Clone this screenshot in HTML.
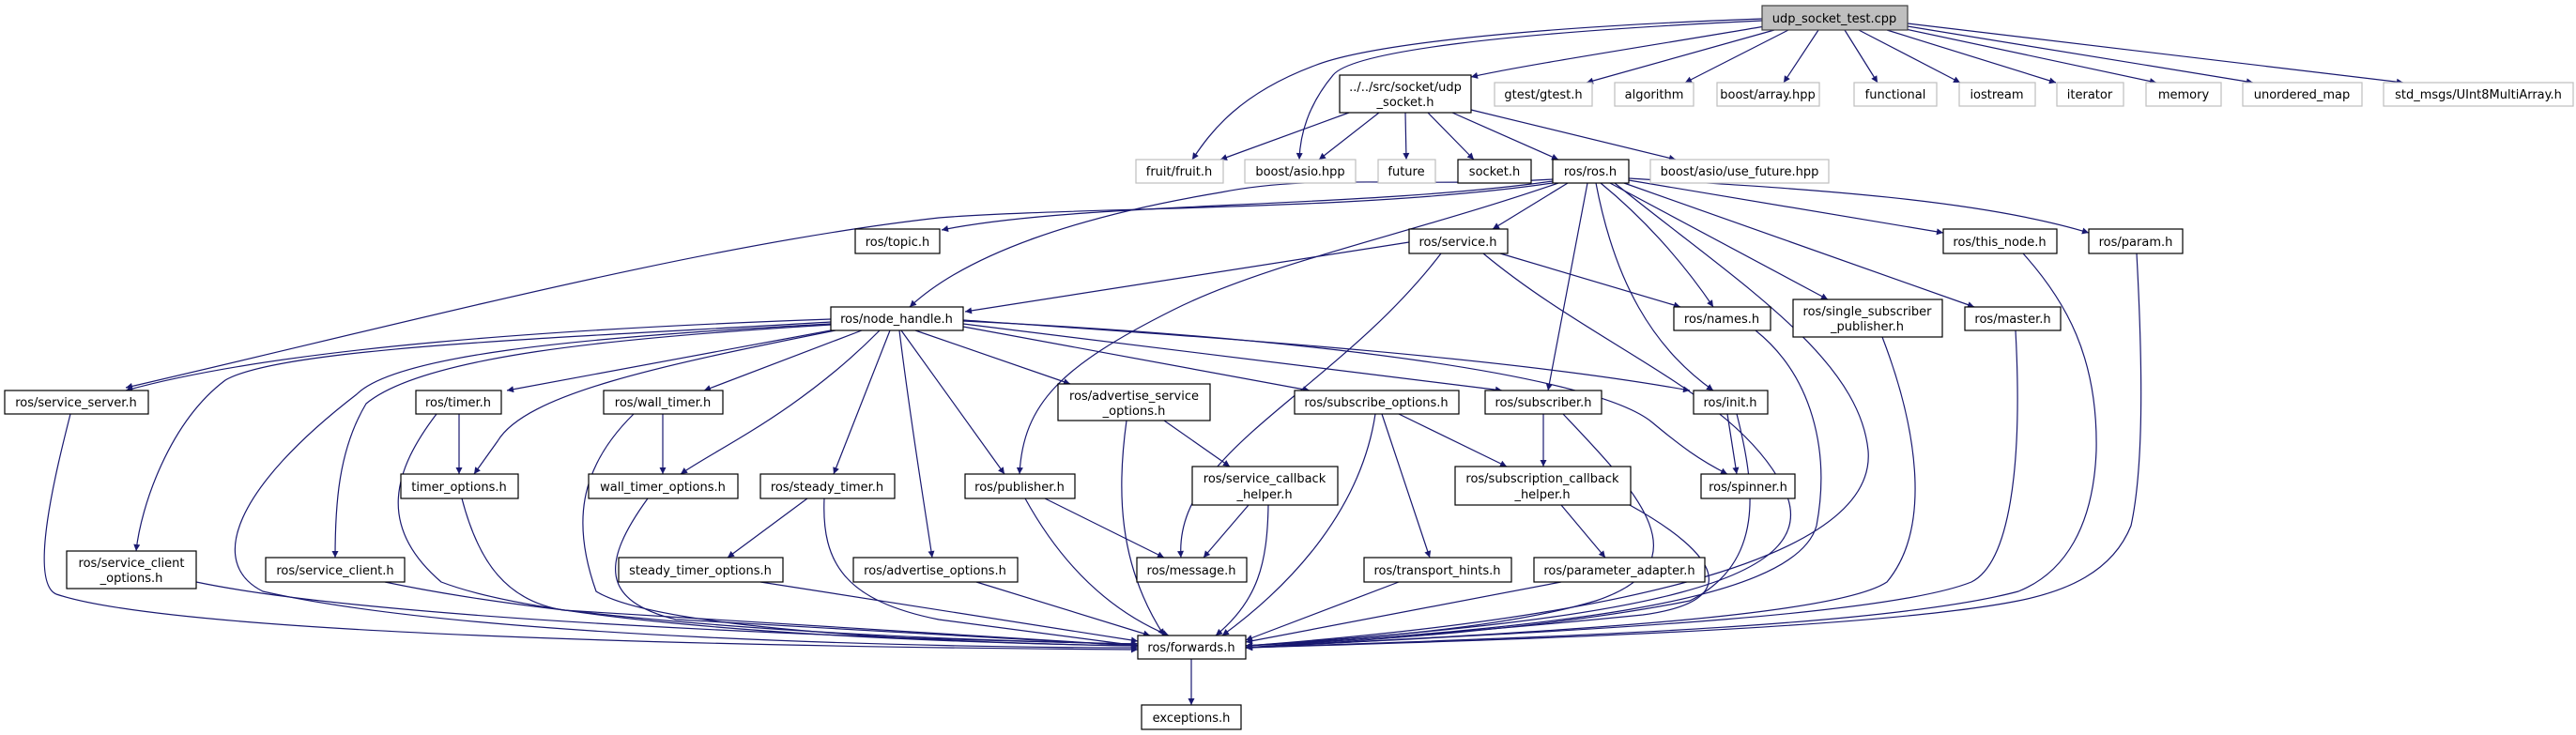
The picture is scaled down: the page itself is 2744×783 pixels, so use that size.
<!DOCTYPE html>
<html><head><meta charset="utf-8"><style>
html,body{margin:0;padding:0;background:#fff;}
svg{display:block;}
text{font-family:"DejaVu Sans","Liberation Sans",sans-serif;font-size:13px;fill:#000;}
.e{fill:none;stroke:#191970;stroke-width:1.2;}
.n{fill:#fff;stroke:#000;stroke-width:1.2;}
.g{fill:#fff;stroke:#bfbfbf;stroke-width:1.2;}
</style></head><body>
<svg width="2744" height="783" viewBox="0 0 2744 783" xmlns="http://www.w3.org/2000/svg">
<defs><marker id="a" viewBox="0 0 10 10" refX="10" refY="5" markerWidth="10" markerHeight="7" markerUnits="userSpaceOnUse" orient="auto"><path d="M0,0 L10,5 L0,10 z" fill="#191970"/></marker></defs>
<g marker-end="url(#a)">
<path class="e" d="M1880,28 C1750,50 1620,70 1567,82"/>
<path class="e" d="M1890,32 L1690,88"/>
<path class="e" d="M1905,32 L1795,88"/>
<path class="e" d="M1937,32 L1900,88"/>
<path class="e" d="M1965,32 L2000,88"/>
<path class="e" d="M1980,32 L2088,88"/>
<path class="e" d="M2010,32 L2190,88"/>
<path class="e" d="M2025,30 L2297,88"/>
<path class="e" d="M2032,28 L2400,88"/>
<path class="e" d="M2032,25 L2560,88"/>
<path class="e" d="M1877,20 C1600,30 1450,50 1400,70 C1320,100 1290,140 1270,170"/>
<path class="e" d="M1877,22 C1600,35 1440,55 1420,80 C1395,110 1385,140 1384,170"/>
<path class="e" d="M1437,120 L1300,170"/>
<path class="e" d="M1469,120 L1405,170"/>
<path class="e" d="M1497,120 L1498,170"/>
<path class="e" d="M1521,120 L1570,170"/>
<path class="e" d="M1547,120 L1660,170"/>
<path class="e" d="M1567,117 L1785,170"/>
<path class="e" d="M1654,193 C1450,222 1150,215 1003,245"/>
<path class="e" d="M1654,195 C1450,225 1150,220 1000,232 C750,260 450,340 134,413"/>
<path class="e" d="M1654,191 C1500,200 1400,185 1300,205 C1150,230 1030,270 969,327"/>
<path class="e" d="M1670,195 L1590,244"/>
<path class="e" d="M1660,195 C1500,250 1350,280 1250,330 C1130,390 1090,430 1086,505"/>
<path class="e" d="M1691,195 L1649,416"/>
<path class="e" d="M1700,195 C1720,300 1760,370 1825,416"/>
<path class="e" d="M1705,195 C1760,240 1800,290 1825,327"/>
<path class="e" d="M1715,195 L1947,319"/>
<path class="e" d="M1730,195 L2103,327"/>
<path class="e" d="M1735,192 L2070,248"/>
<path class="e" d="M1735,190 C1900,200 2100,210 2225,248"/>
<path class="e" d="M1720,195 C1850,300 1980,380 1990,480 C2000,600 1700,660 1327,688"/>
<path class="e" d="M1501,258 L1028,332"/>
<path class="e" d="M1535,270 C1420,420 1250,480 1258,594"/>
<path class="e" d="M1598,270 L1790,327"/>
<path class="e" d="M1580,270 C1700,370 1850,420 1900,520 C1950,620 1750,660 1327,688"/>
<path class="e" d="M885,340 C600,350 300,370 134,416"/>
<path class="e" d="M885,343 C600,360 300,370 240,405 C180,450 150,540 145,587"/>
<path class="e" d="M885,346 C650,360 450,380 390,430 C360,480 357,540 357,594"/>
<path class="e" d="M885,345 C600,360 420,380 380,420 C250,520 220,600 280,630 C500,680 1000,690 1212,690"/>
<path class="e" d="M885,352 L540,416"/>
<path class="e" d="M890,352 C700,390 560,420 530,470 L505,505"/>
<path class="e" d="M918,352 L750,416"/>
<path class="e" d="M937,352 C850,440 760,480 725,505"/>
<path class="e" d="M948,352 L888,505"/>
<path class="e" d="M960,352 L1070,505"/>
<path class="e" d="M958,352 C970,450 985,540 993,594"/>
<path class="e" d="M975,352 L1140,409"/>
<path class="e" d="M1026,348 L1395,416"/>
<path class="e" d="M1026,345 L1600,416"/>
<path class="e" d="M1026,341 C1300,360 1600,380 1800,416"/>
<path class="e" d="M1026,342 C1400,360 1700,400 1760,450 C1790,475 1810,490 1840,505"/>
<path class="e" d="M75,441 C60,500 30,620 60,633 C200,680 900,690 1212,692"/>
<path class="e" d="M489,441 L489,505"/>
<path class="e" d="M465,441 C420,500 400,560 470,620 C600,670 1000,685 1212,688"/>
<path class="e" d="M706,441 L706,505"/>
<path class="e" d="M675,441 C615,500 610,560 635,630 C700,670 1000,685 1212,688"/>
<path class="e" d="M860,531 L775,594"/>
<path class="e" d="M878,531 C875,600 900,640 1000,660 L1212,688"/>
<path class="e" d="M492,531 C510,600 540,640 600,650 L1212,688"/>
<path class="e" d="M690,531 C640,600 640,640 720,660 L1212,688"/>
<path class="e" d="M810,620 L1212,683"/>
<path class="e" d="M209,620 C400,660 900,680 1212,686"/>
<path class="e" d="M410,620 C600,660 900,680 1212,686"/>
<path class="e" d="M1040,620 L1225,677"/>
<path class="e" d="M1240,448 L1310,497"/>
<path class="e" d="M1200,448 C1190,520 1190,600 1240,677"/>
<path class="e" d="M1330,538 L1282,594"/>
<path class="e" d="M1351,538 C1350,600 1340,640 1295,677"/>
<path class="e" d="M1113,531 L1240,594"/>
<path class="e" d="M1092,531 C1130,600 1180,650 1245,677"/>
<path class="e" d="M1490,441 L1605,497"/>
<path class="e" d="M1472,441 L1523,594"/>
<path class="e" d="M1465,441 C1450,540 1380,620 1302,677"/>
<path class="e" d="M1644,441 L1644,497"/>
<path class="e" d="M1665,441 C1740,520 1820,600 1700,640 C1600,670 1450,680 1327,688"/>
<path class="e" d="M1840,441 L1850,505"/>
<path class="e" d="M1850,441 C1870,520 1880,600 1800,640 C1650,670 1450,683 1327,690"/>
<path class="e" d="M1663,538 L1710,594"/>
<path class="e" d="M1736,538 C1830,590 1860,640 1750,655 C1600,670 1450,682 1327,688"/>
<path class="e" d="M1490,620 L1327,682"/>
<path class="e" d="M1663,620 L1327,684"/>
<path class="e" d="M1870,352 C1930,400 1950,480 1935,560 C1910,650 1600,670 1327,690"/>
<path class="e" d="M2005,359 C2040,450 2060,560 2010,620 C1950,660 1600,675 1327,690"/>
<path class="e" d="M2147,352 C2155,500 2140,600 2100,620 C2000,660 1600,675 1327,690"/>
<path class="e" d="M2155,270 C2200,320 2235,380 2233,480 C2230,560 2200,610 2150,630 C2000,670 1600,680 1327,690"/>
<path class="e" d="M2276,270 C2283,400 2283,500 2270,560 C2250,610 2200,630 2150,640 C2000,670 1600,682 1327,690"/>
<path class="e" d="M1269,702 L1269,751"/>
</g>
<g text-anchor="middle">
<rect x="1877" y="6" width="155" height="26" fill="#bfbfbf" stroke="#404040" stroke-width="1.2"/><text x="1954" y="24">udp_socket_test.cpp</text>
<rect class="n" x="1427" y="80" width="140" height="40"/><text x="1497" y="97">../../src/socket/udp</text><text x="1497" y="113">_socket.h</text>
<rect class="g" x="1592" y="88" width="104" height="25"/><text x="1644" y="105">gtest/gtest.h</text>
<rect class="g" x="1720" y="88" width="84" height="25"/><text x="1762" y="105">algorithm</text>
<rect class="g" x="1829" y="88" width="109" height="25"/><text x="1883" y="105">boost/array.hpp</text>
<rect class="g" x="1975" y="88" width="88" height="25"/><text x="2019" y="105">functional</text>
<rect class="g" x="2087" y="88" width="81" height="25"/><text x="2127" y="105">iostream</text>
<rect class="g" x="2191" y="88" width="71" height="25"/><text x="2226" y="105">iterator</text>
<rect class="g" x="2286" y="88" width="80" height="25"/><text x="2326" y="105">memory</text>
<rect class="g" x="2389" y="88" width="127" height="25"/><text x="2452" y="105">unordered_map</text>
<rect class="g" x="2539" y="88" width="202" height="25"/><text x="2640" y="105">std_msgs/UInt8MultiArray.h</text>
<rect class="g" x="1210" y="170" width="93" height="25"/><text x="1256" y="187">fruit/fruit.h</text>
<rect class="g" x="1326" y="170" width="118" height="25"/><text x="1385" y="187">boost/asio.hpp</text>
<rect class="g" x="1468" y="170" width="61" height="25"/><text x="1498" y="187">future</text>
<rect class="n" x="1553" y="170" width="78" height="25"/><text x="1592" y="187">socket.h</text>
<rect class="n" x="1654" y="170" width="81" height="25"/><text x="1694" y="187">ros/ros.h</text>
<rect class="g" x="1758" y="170" width="190" height="25"/><text x="1853" y="187">boost/asio/use_future.hpp</text>
<rect class="n" x="911" y="244" width="90" height="26"/><text x="956" y="262">ros/topic.h</text>
<rect class="n" x="1501" y="244" width="105" height="26"/><text x="1553" y="262">ros/service.h</text>
<rect class="n" x="2070" y="244" width="121" height="26"/><text x="2130" y="262">ros/this_node.h</text>
<rect class="n" x="2225" y="244" width="100" height="26"/><text x="2275" y="262">ros/param.h</text>
<rect class="n" x="885" y="327" width="141" height="25"/><text x="955" y="344">ros/node_handle.h</text>
<rect class="n" x="1783" y="327" width="103" height="25"/><text x="1834" y="344">ros/names.h</text>
<rect class="n" x="1910" y="319" width="159" height="40"/><text x="1989" y="336">ros/single_subscriber</text><text x="1989" y="352">_publisher.h</text>
<rect class="n" x="2093" y="327" width="102" height="25"/><text x="2144" y="344">ros/master.h</text>
<rect class="n" x="5" y="416" width="153" height="25"/><text x="81" y="433">ros/service_server.h</text>
<rect class="n" x="443" y="416" width="91" height="25"/><text x="488" y="433">ros/timer.h</text>
<rect class="n" x="643" y="416" width="127" height="25"/><text x="706" y="433">ros/wall_timer.h</text>
<rect class="n" x="1127" y="409" width="162" height="39"/><text x="1208" y="426">ros/advertise_service</text><text x="1208" y="442">_options.h</text>
<rect class="n" x="1379" y="416" width="175" height="25"/><text x="1466" y="433">ros/subscribe_options.h</text>
<rect class="n" x="1582" y="416" width="124" height="25"/><text x="1644" y="433">ros/subscriber.h</text>
<rect class="n" x="1804" y="416" width="79" height="25"/><text x="1843" y="433">ros/init.h</text>
<rect class="n" x="427" y="505" width="125" height="26"/><text x="489" y="523">timer_options.h</text>
<rect class="n" x="627" y="505" width="159" height="26"/><text x="706" y="523">wall_timer_options.h</text>
<rect class="n" x="810" y="505" width="143" height="26"/><text x="881" y="523">ros/steady_timer.h</text>
<rect class="n" x="1028" y="505" width="117" height="26"/><text x="1086" y="523">ros/publisher.h</text>
<rect class="n" x="1270" y="497" width="155" height="41"/><text x="1347" y="514">ros/service_callback</text><text x="1347" y="531">_helper.h</text>
<rect class="n" x="1550" y="497" width="187" height="41"/><text x="1643" y="514">ros/subscription_callback</text><text x="1643" y="531">_helper.h</text>
<rect class="n" x="1812" y="505" width="100" height="26"/><text x="1862" y="523">ros/spinner.h</text>
<rect class="n" x="71" y="587" width="138" height="40"/><text x="140" y="604">ros/service_client</text><text x="140" y="620">_options.h</text>
<rect class="n" x="283" y="594" width="148" height="26"/><text x="357" y="612">ros/service_client.h</text>
<rect class="n" x="659" y="594" width="175" height="26"/><text x="746" y="612">steady_timer_options.h</text>
<rect class="n" x="909" y="594" width="175" height="26"/><text x="996" y="612">ros/advertise_options.h</text>
<rect class="n" x="1211" y="594" width="117" height="26"/><text x="1269" y="612">ros/message.h</text>
<rect class="n" x="1453" y="594" width="157" height="26"/><text x="1531" y="612">ros/transport_hints.h</text>
<rect class="n" x="1634" y="594" width="182" height="26"/><text x="1725" y="612">ros/parameter_adapter.h</text>
<rect class="n" x="1212" y="677" width="115" height="25"/><text x="1269" y="694">ros/forwards.h</text>
<rect class="n" x="1216" y="751" width="106" height="26"/><text x="1269" y="769">exceptions.h</text>
</g>
</svg>
</body></html>
